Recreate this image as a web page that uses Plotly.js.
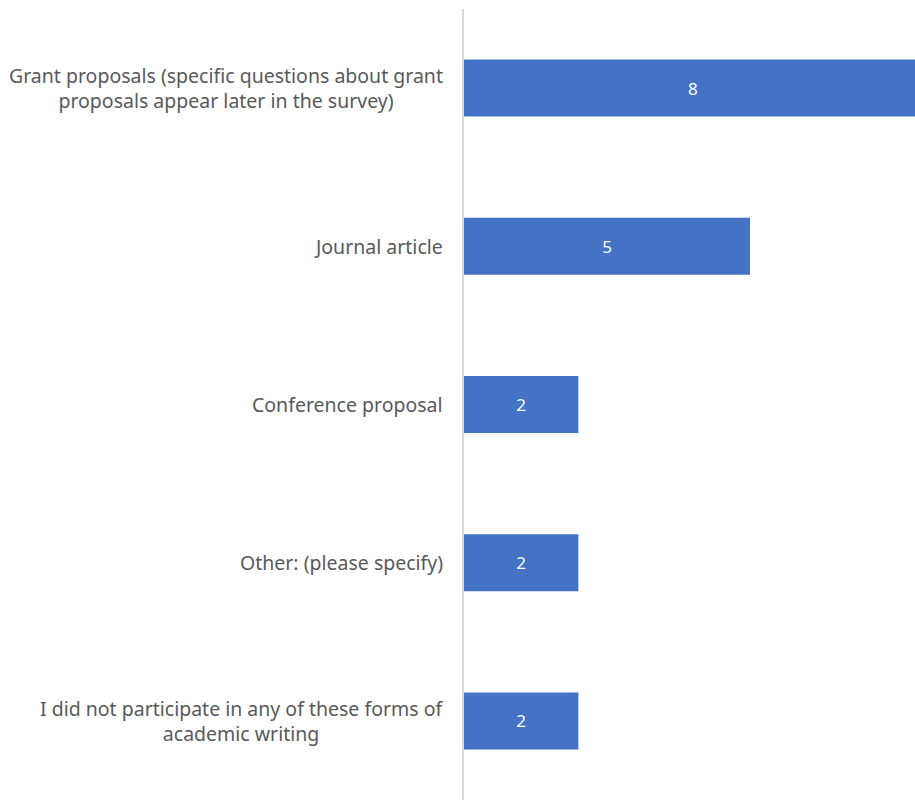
<!DOCTYPE html>
<html>
<head>
<meta charset="utf-8">
<script src="https://cdn.plot.ly/plotly-3.0.1.min.js"></script>
<style>html,body{margin:0;padding:0;background:#fff;}#chart{width:915px;height:800px;}</style>
</head>
<body>
<div id="chart"></div>
<script>
var categories = [
  "Grant proposals (specific questions about grant<br>proposals appear later in the survey)",
  "Journal article",
  "Conference proposal",
  "Other: (please specify)",
  "I did not participate in any of these forms of<br>academic writing"
];
var counts = [8, 5, 2, 2, 2];

var fontFam = "'Noto Sans', 'Open Sans', sans-serif";

var trace = {
  type: 'bar',
  orientation: 'h',
  y: categories,
  x: counts,
  marker: {color: '#4472C4'},
  text: counts.map(String),
  textposition: 'inside',
  insidetextanchor: 'middle',
  textangle: 0,
  textfont: {color: '#ffffff', size: 17, family: fontFam},
  hoverinfo: 'x+y',
  cliponaxis: true
};

var annotations = categories.map(function(c){
  return {
    xref: 'paper', yref: 'y', x: 0, y: c,
    xanchor: 'right', yanchor: 'middle', xshift: -19,
    text: c, showarrow: false, align: 'center',
    font: {family: fontFam, size: 19.5, color: '#595959'}
  };
});

var layout = {
  width: 915, height: 800,
  margin: {l: 464, r: 0, t: 9, b: 0, pad: 0},
  paper_bgcolor: '#ffffff', plot_bgcolor: '#ffffff',
  showlegend: false,
  bargap: 0.64,
  xaxis: {range: [0, 7.885], showgrid: false, zeroline: false, showticklabels: false, showline: false, ticks: ''},
  yaxis: {type: 'category', autorange: 'reversed', showticklabels: false, ticks: '',
          showline: true, linecolor: '#d9d9d9', linewidth: 2, showgrid: false, zeroline: false},
  annotations: annotations
};

Plotly.newPlot('chart', [trace], layout, {displayModeBar: false, staticPlot: true});
</script>
</body>
</html>
